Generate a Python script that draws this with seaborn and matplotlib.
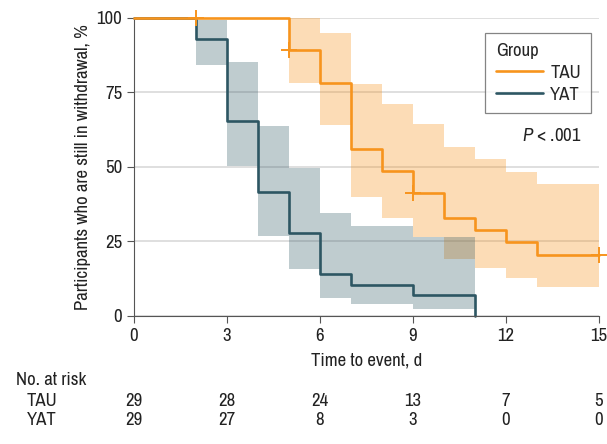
import matplotlib

matplotlib.use("Agg")
import matplotlib.pyplot as plt
import matplotlib.transforms as mtransforms
from matplotlib import font_manager
import seaborn as sns
import pandas as pd

# Kaplan-Meier estimates (%)
tau_time = [0, 5, 6, 7, 8, 9, 10, 11, 12, 13, 15]
tau_surv = [100, 89.3, 78.2, 56.0, 48.5, 41.2, 32.8, 28.9, 24.7, 20.5, 20.5]
tau_lo = [100, 78.3, 64.0, 40.0, 32.8, 26.4, 19.1, 16.0, 12.9, 9.8, 9.8]
tau_hi = [100, 100, 94.9, 77.7, 71.1, 64.3, 56.7, 52.6, 48.2, 44.2, 44.2]
tau_cens_t = [2, 5, 9, 15]
tau_cens_s = [100, 89.3, 41.2, 20.5]

yat_time = [0, 2, 3, 4, 5, 6, 7, 9, 11]
yat_surv = [100, 92.8, 65.5, 41.5, 27.9, 14.0, 10.5, 7.1, 0]
yat_lo = [100, 84.1, 50.3, 26.9, 15.7, 5.9, 3.9, 2.2, 2.2]
yat_hi = [100, 99.3, 85.1, 63.8, 49.8, 34.5, 30.2, 26.4, 26.4]

risk_times = [0, 3, 6, 9, 12, 15]
tau_risk = [29, 28, 24, 13, 7, 5]
yat_risk = [29, 27, 8, 3, 0, 0]

tau_color = "#F7941D"
yat_color = "#2D5663"
txt_color = "#222222"

sns.set_style("white")

# prefer a condensed face if one is installed
fonts = font_manager.fontManager.ttflist
narrow = sorted({f.name for f in fonts if "Narrow" in f.name or "Condensed" in f.name})
cond_dejavu = any(f.name == "DejaVu Sans" and "condensed" in str(f.stretch) for f in fonts)
if narrow:
    main_font = narrow[0]
    plt.rcParams["font.family"] = [main_font, "DejaVu Sans"]
elif cond_dejavu:
    main_font = "DejaVu Sans"
    plt.rcParams["font.family"] = ["DejaVu Sans"]
    plt.rcParams["font.stretch"] = "condensed"
else:
    main_font = "Lato"
    plt.rcParams["font.family"] = ["Lato", "DejaVu Sans"]
plt.rcParams["mathtext.fontset"] = "custom"
plt.rcParams["mathtext.rm"] = main_font
plt.rcParams["mathtext.it"] = main_font + ":italic"
fs = 13.5

df = pd.concat([
    pd.DataFrame({"t": tau_time, "s": tau_surv, "Group": "TAU"}),
    pd.DataFrame({"t": yat_time, "s": yat_surv, "Group": "YAT"}),
])

fig = plt.figure(figsize=(6.07, 4.44), dpi=100)
ax = fig.add_axes([134 / 607, 1 - 316 / 444, 465 / 607, 298 / 444])

# confidence bands
ax.fill_between(tau_time, tau_lo, tau_hi, step="post", color=tau_color,
                alpha=0.32, lw=0)
ax.fill_between(yat_time, yat_lo, yat_hi, step="post", color=yat_color,
                alpha=0.3, lw=0)

sns.lineplot(data=df, x="t", y="s", hue="Group", ax=ax, drawstyle="steps-post",
             palette={"TAU": tau_color, "YAT": yat_color}, linewidth=1.9,
             estimator=None, sort=False)
for line in ax.get_lines():
    line.set_clip_on(False)
    if line.get_color() == tau_color:
        line.set_zorder(3)
ax.plot(tau_cens_t, tau_cens_s, ls="none", marker="+", ms=11, mew=1.4,
        color=tau_color, clip_on=False, zorder=4)

ax.set_xlim(0, 15)
ax.set_ylim(0, 100)
ax.set_xticks(risk_times)
ax.set_yticks([0, 25, 50, 75, 100])
ax.yaxis.grid(True, color="#d9d9d9", lw=1.2)
ax.set_axisbelow(True)
for s in ["top", "right"]:
    ax.spines[s].set_visible(False)
for s in ["left", "bottom"]:
    ax.spines[s].set_color("#555555")
ax.tick_params(axis="both", direction="out", length=5, color="#555555",
               labelsize=fs, labelcolor=txt_color, left=True, bottom=True)

ax.set_xlabel("Time to event, d", fontsize=fs, color=txt_color, labelpad=6)
ax.set_ylabel("Participants who are still in withdrawal, %", fontsize=fs,
              color=txt_color, labelpad=4)

leg = ax.legend(title="Group", loc="upper right", bbox_to_anchor=(0.983, 0.95),
                borderaxespad=0, frameon=True, fancybox=False,
                edgecolor="#666666", fontsize=fs, title_fontsize=fs,
                handlelength=2.5, handletextpad=0.4, borderpad=0.55,
                labelspacing=0.3, alignment="left")
leg.get_frame().set_linewidth(0.9)

ax.text(0.962, 0.607, "$\\it{P}$ < .001", transform=ax.transAxes, ha="right",
        va="center", fontsize=fs, color=txt_color)

# number at risk table
trans = mtransforms.blended_transform_factory(ax.transData, fig.transFigure)
fig.text(16 / 607, 1 - 380 / 444, "No. at risk", fontsize=fs, va="center",
         color=txt_color)
fig.text(27 / 607, 1 - 401 / 444, "TAU", fontsize=fs, va="center", color=txt_color)
fig.text(27 / 607, 1 - 420 / 444, "YAT", fontsize=fs, va="center", color=txt_color)
for t, a, b in zip(risk_times, tau_risk, yat_risk):
    ax.text(t, 1 - 401 / 444, str(a), transform=trans, ha="center", va="center",
            fontsize=fs, color=txt_color)
    ax.text(t, 1 - 420 / 444, str(b), transform=trans, ha="center", va="center",
            fontsize=fs, color=txt_color)

fig.savefig("out.png", dpi=100)
plt.close(fig)
